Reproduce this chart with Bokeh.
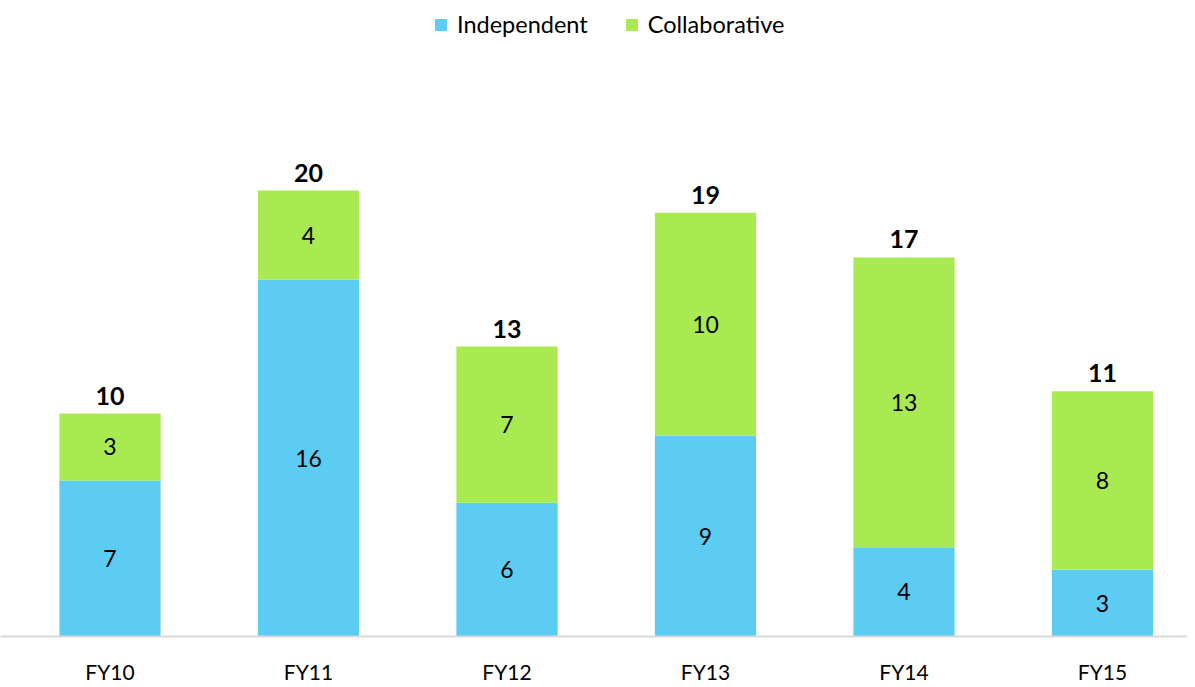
from bokeh.plotting import figure
from bokeh.models import ColumnDataSource, Range1d, FixedTicker
from bokeh.core.properties import value
from bokeh.embed import file_html
from bokeh.resources import INLINE

categories = ["FY10", "FY11", "FY12", "FY13", "FY14", "FY15"]
independent = [7, 16, 6, 9, 4, 3]
collaborative = [3, 4, 7, 10, 13, 8]

BLUE = "#5DCCF3"
GREEN = "#A9EA53"
FONT = "Lato"

xs = list(range(len(categories)))
totals = [a + b for a, b in zip(independent, collaborative)]
src = ColumnDataSource(dict(
    x=xs, cat=categories, Independent=independent, Collaborative=collaborative,
    total=totals,
    ind_mid=[a / 2 for a in independent],
    col_mid=[a + b / 2 for a, b in zip(independent, collaborative)],
    ind_lbl=[str(v) for v in independent],
    col_lbl=[str(v) for v in collaborative],
    tot_lbl=[str(v) for v in totals],
))

FW, FH = 1187, 636
p = figure(frame_width=FW, frame_height=FH, output_backend="svg",
           toolbar_location=None,
           x_range=Range1d(-109.5 / 198.5, -109.5 / 198.5 + FW / 198.5),
           y_range=Range1d(0, FH / 22.3), min_border=0)
p.outline_line_color = None
p.xgrid.visible = False
p.ygrid.visible = False
p.yaxis.visible = False

p.vbar_stack(["Independent", "Collaborative"], x="x", width=0.51, source=src,
             color=[BLUE, GREEN], line_color=None,
             legend_label=["Independent", "Collaborative"])

common = dict(source=src, text_align="center", text_baseline="middle",
              text_font=value(FONT), text_color="#000000")
p.text(x="x", y="ind_mid", text="ind_lbl", text_font_size="23px", **common)
p.text(x="x", y="col_mid", text="col_lbl", text_font_size="23px", **common)
p.text(x="x", y="total", text="tot_lbl", text_font_size="25px",
       text_font_style="bold", y_offset=-18, **common)

ax = p.xaxis[0]
ax.ticker = FixedTicker(ticks=xs)
ax.major_label_overrides = {i: c for i, c in zip(xs, categories)}
ax.major_tick_line_color = None
ax.minor_tick_line_color = None
ax.major_tick_out = 0
ax.axis_line_color = "#D9D9D9"
ax.axis_line_width = 2
ax.major_label_standoff = 22
ax.major_label_text_font = FONT
ax.major_label_text_font_size = "21px"
ax.major_label_text_color = "#000000"

lg = p.legend[0]
lg.orientation = "horizontal"
lg.location = (433, FH - 38)
lg.border_line_color = None
lg.background_fill_alpha = 0
lg.glyph_width = 15
lg.glyph_height = 15
lg.label_standoff = 9
lg.spacing = 36
lg.padding = 0
lg.margin = 0
lg.label_text_font = FONT
lg.label_text_font_size = "23.5px"
lg.label_text_color = "#000000"

open("out.html", "w").write(file_html(p, INLINE))
